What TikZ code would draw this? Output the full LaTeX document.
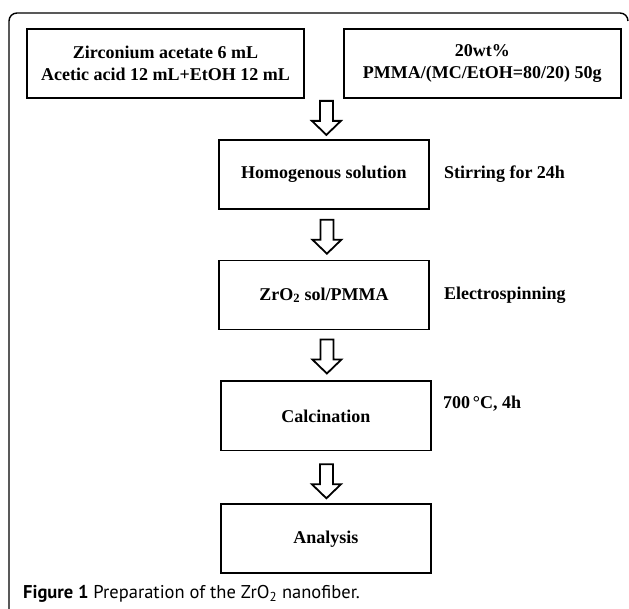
\documentclass[tikz,border=0pt]{standalone}
\usepackage{fontspec}
\setmainfont{Liberation Serif}
\newfontfamily\capfont{PT Sans}
\usetikzlibrary{positioning,calc}

\begin{document}
\begin{tikzpicture}[x=1pt, y=-1pt, node distance=50pt,
    box/.style={draw, line width=1.8pt, minimum width=210pt, minimum height=69pt, align=center, font=\bfseries\fontsize{18}{22}\selectfont},
    wide/.style={box, minimum width=277pt},
    note/.style={inner sep=0pt, font=\bfseries\fontsize{18}{22}\selectfont},
    fat/.style={line width=1.8pt, to path={let \p1=(\tikztostart), \p2=(\tikztotarget) in
      (\x1-6.5pt,\y1) -- (\x1+6.5pt,\y1) -- (\x1+6.5pt,\y2+14pt) -- (\x1+14.5pt,\y2+14pt)
      -- (\x1,\y2) -- (\x1-14.5pt,\y2+14pt) -- (\x1-6.5pt,\y2+14pt) -- cycle}}]
  \useasboundingbox (0,0) rectangle (629,609);
  \draw[line width=1.4pt, rounded corners=8pt] (9,609) -- (9,13) -- (628,13) -- (628,21);

  \node[wide] (zr) at (165.5,63.5) {Zirconium acetate 6 mL\\Acetic acid 12 mL+EtOH 12 mL};
  \node[wide] (pm) [right=38pt of zr] {20wt\%\\PMMA/(MC/EtOH=80/20) 50g};
  \coordinate (top) at ($(zr.south east)!.5!(pm.south west)$);
  \node[box] (hs) [below=40pt of top] {Homogenous solution};
  \node[box] (sol) [below=of hs] {ZrO\textsubscript{2} sol/PMMA};
  \node[box] (cal) [below=of sol, xshift=2pt] {Calcination};
  \node[box] (ana) [below=52pt of cal] {Analysis};

  \node[note] (n1) [right=14pt of hs] {Stirring for 24h};
  \node[note] (n2) [right=14pt of sol] {Electrospinning};
  \node[note] (n3) [right=11pt of cal, yshift=12pt] {700\,°C, 4h};

  \draw[fat] ([xshift=2.5pt,yshift=-2pt]top) to ([yshift=4pt]hs.north);
  \draw[fat] ([xshift=3pt,yshift=-10pt]hs.south) to ([yshift=6pt]sol.north);
  \draw[fat] ([xshift=3pt,yshift=-9pt]sol.south) to ([yshift=7pt]cal.north);
  \draw[fat] ([xshift=0.5pt,yshift=-13pt]cal.south) to ([yshift=5pt]ana.north);

  \node[inner sep=0pt, anchor=base west, font=\capfont\fontsize{18.5}{20}\selectfont] (cap) at (23,598) {\textbf{Figure 1} Preparation of the ZrO\textsubscript{2} nanofiber.};
\end{tikzpicture}
\end{document}
